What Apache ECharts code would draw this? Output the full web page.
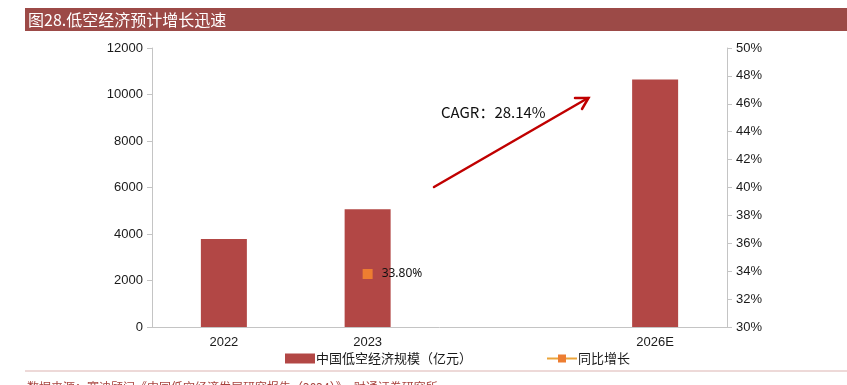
<!DOCTYPE html>
<html>
<head>
<meta charset="utf-8">
<script src="https://cdn.jsdelivr.net/npm/echarts@6/dist/echarts.min.js"></script>
<style>html,body{margin:0;padding:0;background:#fff;}#c{width:847px;height:385px;}</style>
</head>
<body>
<div id="c"></div>
<script>
const categories = ['2022', '2023', '', '2026E'];
const scaleValues = [3786, 5059.5, null, 10644.6];
const growthValues = [null, 33.8, null, null];
const growthLabels = [null, '33.80%', null, null];
const titleText = '图28.低空经济预计增长迅速';
const sourceText = '数据来源：赛迪顾问《中国低空经济发展研究报告（2024）》，财通证券研究所';
const cagrText = 'CAGR：28.14%';

const chart = echarts.init(document.getElementById('c'), null, {renderer: 'canvas'});
const axisFont = {fontFamily: 'Liberation Sans, Arial, sans-serif', fontSize: 13, color: '#1a1a1a'};
const axisLine = {show: true, lineStyle: {color: '#c4c4c4', width: 1}};

chart.setOption({
  animation: false,
  backgroundColor: '#fff',
  grid: {left: 152, right: 120, top: 48, bottom: 58},
  legend: {
    left: 285, top: 352, padding: 0,
    itemWidth: 30, itemHeight: 10, itemGap: 74,
    textStyle: {fontFamily: 'Noto Sans CJK SC', fontSize: 13, color: '#1a1a1a', padding: [0, 0, 0, -4]},
    data: [
      {name: '中国低空经济规模（亿元）', icon: 'rect'},
      {name: '同比增长'}
    ]
  },
  xAxis: {
    type: 'category', data: categories,
    axisLine: axisLine, axisTick: {show: false},
    axisLabel: Object.assign({margin: 9}, axisFont)
  },
  yAxis: [
    {
      type: 'value', min: 0, max: 12000, interval: 2000,
      axisLine: axisLine, axisTick: {show: true, length: 5, lineStyle: {color: '#c4c4c4'}},
      splitLine: {show: false},
      axisLabel: Object.assign({margin: 9, formatter: v => String(v)}, axisFont)
    },
    {
      type: 'value', min: 30, max: 50, interval: 2, position: 'right',
      axisLine: axisLine, axisTick: {show: true, length: 5, lineStyle: {color: '#c4c4c4'}},
      splitLine: {show: false},
      axisLabel: Object.assign({margin: 9, formatter: '{value}%'}, axisFont)
    }
  ],
  series: [
    {
      name: '中国低空经济规模（亿元）', type: 'bar', data: scaleValues,
      barWidth: 46, itemStyle: {color: '#b24745'}
    },
    {
      name: '同比增长', type: 'line', yAxisIndex: 1, data: growthValues,
      symbol: 'rect', symbolSize: 10, connectNulls: false,
      itemStyle: {color: '#ed7d31'},
      lineStyle: {color: '#eba43a', width: 3},
      label: {
        show: true, position: 'right', distance: 9,
        fontFamily: 'Noto Sans', fontSize: 12, color: '#111',
        formatter: p => growthLabels[p.dataIndex] || ''
      }
    }
  ],
  graphic: [
    {type: 'rect', shape: {x: 25, y: 8, width: 822, height: 23}, style: {fill: '#9c4a47'}, silent: true},
    {type: 'text', x: 28, y: 20, style: {text: titleText, fill: '#fff', font: '16px "Noto Sans CJK SC"', verticalAlign: 'middle'}, silent: true},
    {type: 'line', shape: {x1: 25, y1: 371, x2: 847, y2: 371}, style: {stroke: '#dcb3b1', lineWidth: 1}, silent: true},
    {type: 'text', x: 27, y: 381, style: {text: sourceText, fill: '#a8433e', font: '12px "Noto Sans CJK SC"', verticalAlign: 'top'}, silent: true},
    {type: 'text', x: 441, y: 112, style: {text: cagrText, fill: '#111', font: '15px "Noto Sans CJK SC"', verticalAlign: 'middle'}, silent: true},
    {type: 'line', shape: {x1: 434, y1: 187, x2: 588, y2: 98}, style: {stroke: '#c00000', lineWidth: 2.5, lineCap: 'round'}, silent: true},
    {type: 'polyline', shape: {points: [[575, 98], [588.5, 98], [582, 109]]}, style: {stroke: '#c00000', lineWidth: 2.5, fill: null, lineCap: 'round', lineJoin: 'miter'}, silent: true}
  ]
});
</script>
</body>
</html>
